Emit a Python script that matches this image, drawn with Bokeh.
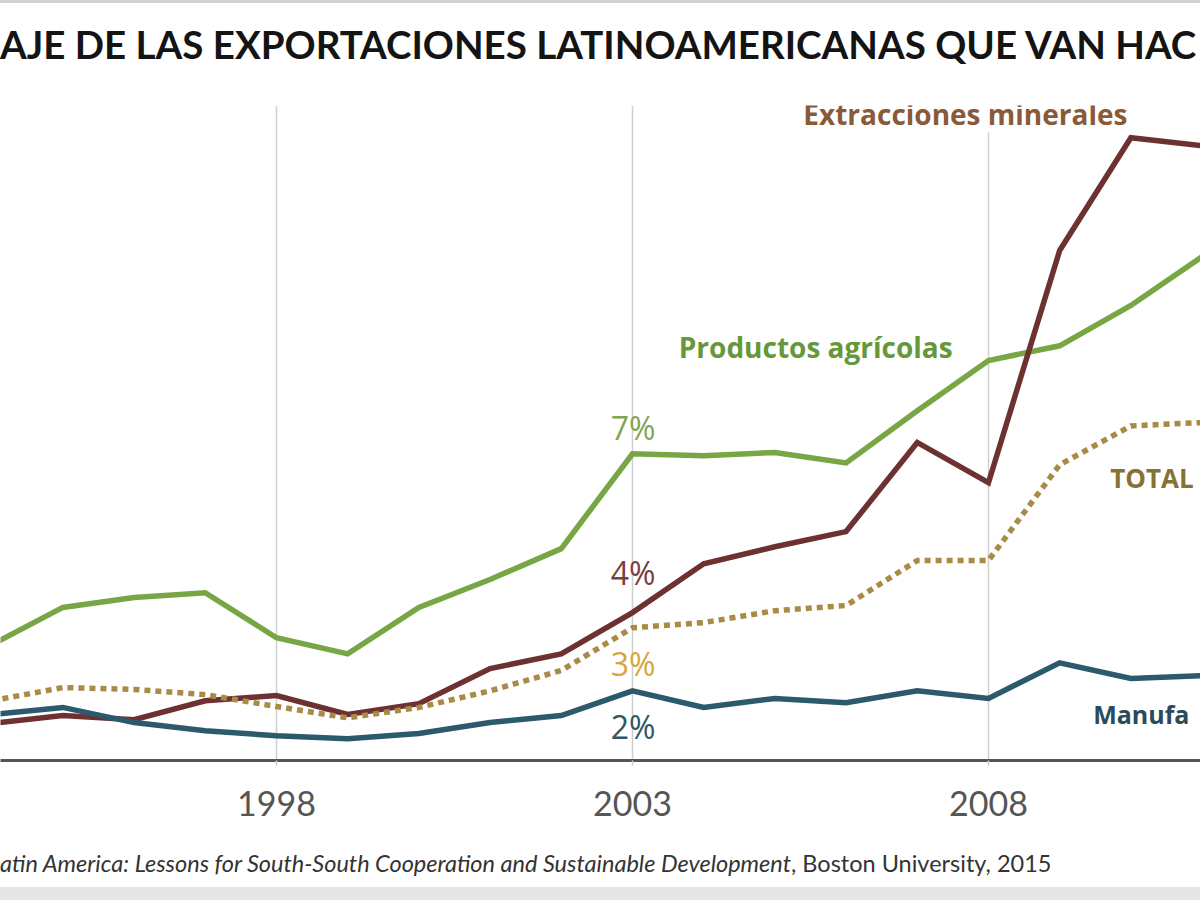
from bokeh.plotting import figure
from bokeh.models import Range1d, FixedTicker, Label, Div
from bokeh.layouts import column
from bokeh.embed import file_html
from bokeh.resources import INLINE

years = list(range(1994, 2012))
agricolas = [2.97, 3.76, 3.97, 4.07, 3.12, 2.78, 3.76, 4.35, 5.00, 7.00, 6.96, 7.03, 6.81, 7.91, 8.97, 9.28, 10.13, 11.16]
minerales = [1.31, 1.48, 1.39, 1.79, 1.90, 1.50, 1.73, 2.47, 2.78, 3.65, 4.68, 5.04, 5.36, 7.24, 6.39, 11.29, 13.67, 13.50]
total = [1.79, 2.07, 2.03, 1.92, 1.67, 1.43, 1.65, 2.00, 2.43, 3.33, 3.44, 3.69, 3.80, 4.75, 4.75, 6.77, 7.59, 7.66]
manufacturas = [1.50, 1.65, 1.33, 1.16, 1.05, 0.99, 1.10, 1.33, 1.48, 2.00, 1.65, 1.84, 1.75, 2.00, 1.84, 2.59, 2.26, 2.32]
tick_years = [1998, 2003, 2008]

title_text = "AJE DE LAS EXPORTACIONES LATINOAMERICANAS QUE VAN HAC"
source_italic = "atin America: Lessons for South-South Cooperation and Sustainable Development"
source_plain = ", Boston University, 2015"

GREEN = "#78a645"
BROWN = "#6d3131"
GOLD = "#a98b45"
TEAL = "#2a5a6b"

p = figure(width=1200, height=760, output_backend="svg", toolbar_location=None,
           x_range=Range1d(1994.124, 2010.978), y_range=Range1d(0.53, 14.35),
           y_axis_location=None, min_border_left=0, min_border_right=0,
           min_border_top=25, min_border_bottom=80)
p.outline_line_color = None
p.background_fill_color = "white"
p.border_fill_color = "white"

p.ygrid.visible = False
p.xgrid.ticker = FixedTicker(ticks=tick_years)
p.xgrid.grid_line_color = "#cfcfcf"
p.xgrid.grid_line_width = 1.5

ax = p.xaxis[0]
ax.ticker = FixedTicker(ticks=tick_years)
ax.axis_line_color = "#555555"
ax.axis_line_width = 3
ax.major_tick_line_color = "#cfcfcf"
ax.major_tick_line_width = 1.5
ax.major_tick_in = 0
ax.major_tick_out = 5
ax.minor_tick_line_color = None
ax.major_label_text_font = "Lato"
ax.major_label_text_font_size = "34px"
ax.major_label_text_color = "#555555"
ax.major_label_standoff = 25

p.line(years, agricolas, line_color=GREEN, line_width=5.5, line_join="miter")
p.line(years, minerales, line_color=BROWN, line_width=5.5, line_join="miter")
p.line(years, total, line_color=GOLD, line_width=5.5, line_dash="6 5")
p.line(years, manufacturas, line_color=TEAL, line_width=5.5, line_join="miter")

def lab(x, y, text, color, size="28px", style="bold", align="left", bg=None, font="Open Sans"):
    l = Label(x=x, y=y, text=text, text_color=color, text_font_size=size,
              text_font_style=style, text_align=align, text_baseline="middle",
              text_font=font)
    if bg:
        l.background_fill_color = bg
    p.add_layout(l)

lab(2005.40, 14.18, "Extracciones minerales", "#8a5a38", bg="white")
lab(2003.65, 9.26, "Productos agrícolas", "#659839")
lab(2009.71, 6.50, "TOTAL", "#857336", size="26px")
lab(2009.47, 1.52, "Manufa", "#2b4a5a", size="25px")

lab(2003.01, 7.55, "7%", "#80a655", size="32px", style="normal", align="center")
lab(2003.01, 4.49, "4%", "#7a4040", size="32px", style="normal", align="center")
lab(2003.01, 2.57, "3%", "#d6a63e", size="32px", style="normal", align="center")
lab(2003.01, 1.24, "2%", "#2d5868", size="32px", style="normal", align="center")

header = Div(text=title_text, width=1200, height=80, margin=(0, 0, 0, 0),
             styles={"font-family": "Lato", "font-weight": "bold", "font-size": "38.5px",
                     "line-height": "46px", "color": "#141414", "white-space": "nowrap",
                     "padding-top": "21px", "padding-left": "0px", "overflow": "hidden",
                     "background": "linear-gradient(to bottom, #d2d2d2 3px, #ffffff 3px)"})

source = Div(text="<i>" + source_italic + "</i>" + source_plain,
             width=1200, height=60, margin=(0, 0, 0, 0),
             styles={"font-family": "Lato", "font-size": "23.5px", "line-height": "26px",
                     "color": "#333333", "white-space": "nowrap", "padding-top": "10px",
                     "padding-left": "0px",
                     "background": "linear-gradient(to bottom, #ffffff 47px, #e6e6e6 47px)"})

layout = column(header, p, source, spacing=0)
open("out.html", "w").write(file_html(layout, INLINE))
